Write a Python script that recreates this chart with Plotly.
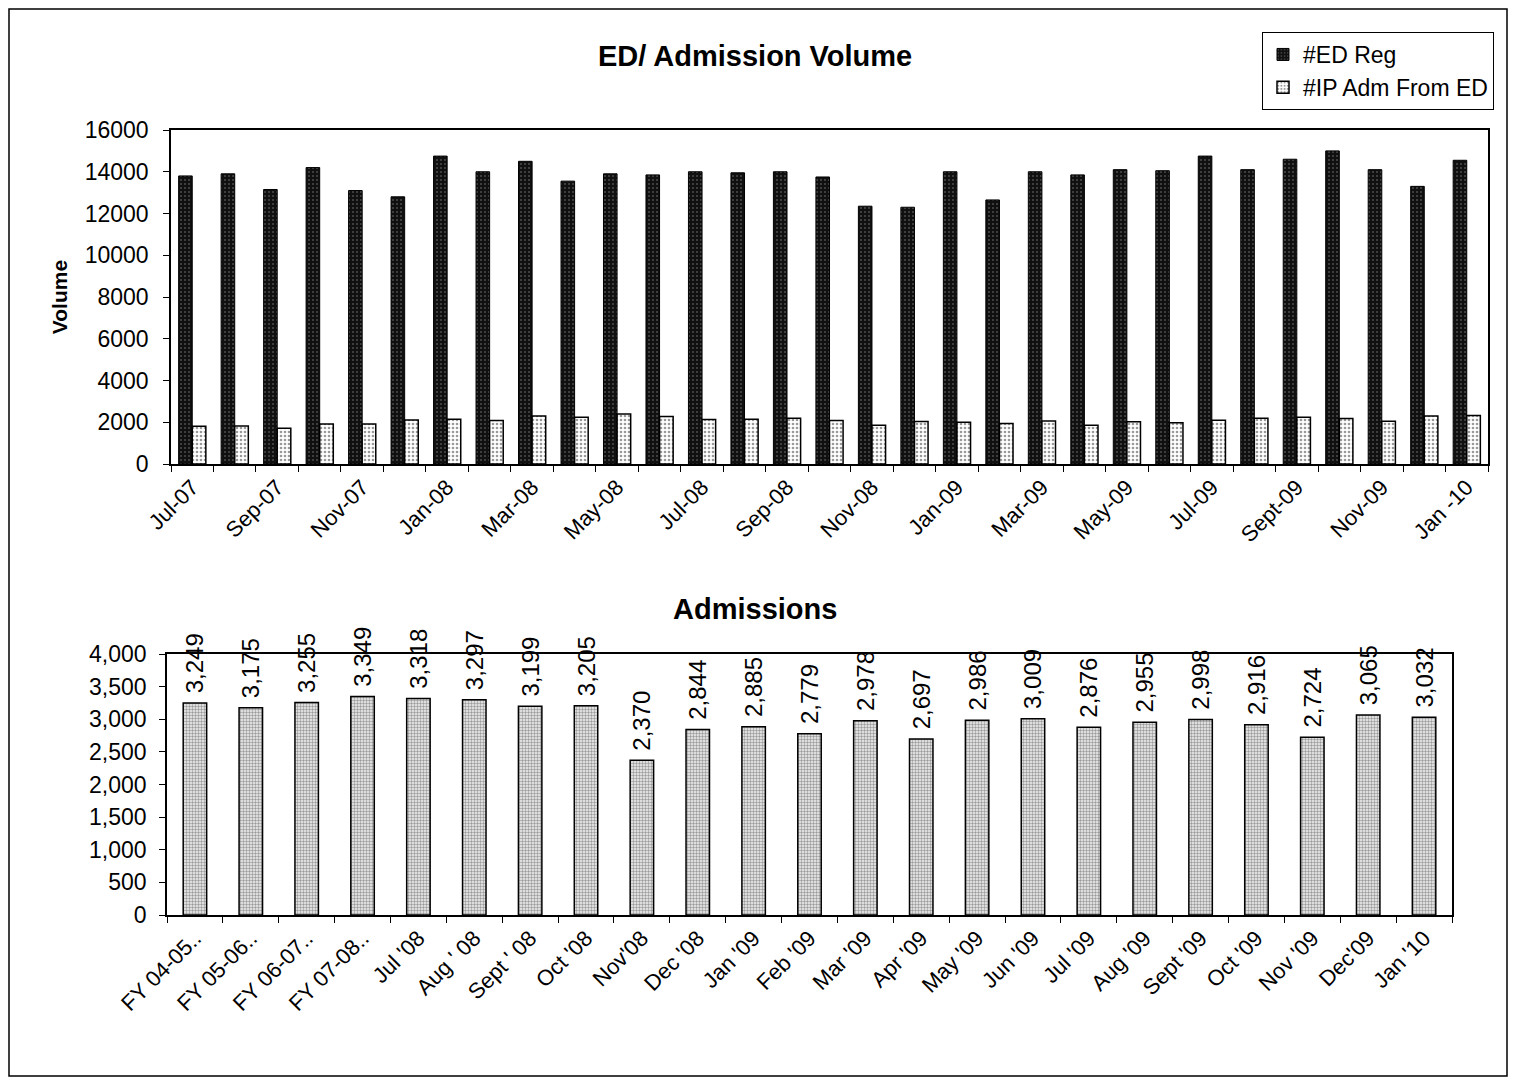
import plotly.graph_objects as go

# ---- Top chart data ----
months = ["Jul-07", "Aug-07", "Sep-07", "Oct-07", "Nov-07", "Dec-07",
          "Jan-08", "Feb-08", "Mar-08", "Apr-08", "May-08", "Jun-08",
          "Jul-08", "Aug-08", "Sep-08", "Oct-08", "Nov-08", "Dec-08",
          "Jan-09", "Feb-09", "Mar-09", "Apr-09", "May-09", "Jun-09",
          "Jul-09", "Aug-09", "Sept-09", "Oct-09", "Nov-09", "Dec-09",
          "Jan -10"]
ed_reg = [13800, 13900, 13150, 14200, 13100, 12800,
          14750, 14000, 14500, 13550, 13900, 13850,
          14000, 13950, 14000, 13750, 12350, 12300,
          14000, 12650, 14000, 13850, 14100, 14050,
          14750, 14100, 14600, 15000, 14100, 13300,
          14550]
ip_adm = [1810, 1820, 1710, 1920, 1920, 2110,
          2140, 2080, 2300, 2240, 2400, 2270,
          2130, 2140, 2190, 2080, 1860, 2030,
          2000, 1940, 2060, 1860, 2020, 1980,
          2100, 2190, 2240, 2180, 2050, 2300,
          2320]
top_ticktext = [m if i % 2 == 0 else "" for i, m in enumerate(months)]
top_yticks = [0, 2000, 4000, 6000, 8000, 10000, 12000, 14000, 16000]
top_yticktext = ["0", "2000", "4000", "6000", "8000", "10000", "12000",
                 "14000", "16000"]

# ---- Bottom chart data ----
adm_cats = ["FY 04-05..", "FY 05-06..", "FY 06-07..", "FY 07-08..",
            "Jul '08", "Aug ' 08", "Sept ' 08", "Oct '08", "Nov'08",
            "Dec '08", "Jan '09", "Feb '09", "Mar '09", "Apr '09",
            "May '09", "Jun '09", "Jul '09", "Aug '09", "Sept '09",
            "Oct '09", "Nov '09", "Dec'09", "Jan '10"]
adm_vals = [3249, 3175, 3255, 3349, 3318, 3297, 3199, 3205, 2370,
            2844, 2885, 2779, 2978, 2697, 2986, 3009, 2876, 2955,
            2998, 2916, 2724, 3065, 3032]
bot_yticks = [0, 500, 1000, 1500, 2000, 2500, 3000, 3500, 4000]

FONT = "Liberation Sans, Arial, sans-serif"

# page has an 8px body margin; figure sized to fit the window
OFF = 8
W, H = 1508, 1071


def fx(px):
    return (px - OFF) / W


def fy(py):
    return 1 - (py - OFF) / H


fig = go.Figure()

fig.add_trace(go.Bar(
    x=months, y=ed_reg, name="#ED Reg",
    marker=dict(color="#151515", line=dict(color="black", width=1),
                pattern=dict(shape=".", fgcolor="#8a8a8a", bgcolor="#101010",
                             size=4, solidity=0.2)),
    xaxis="x", yaxis="y"))
fig.add_trace(go.Bar(
    x=months, y=ip_adm, name="#IP Adm From ED",
    marker=dict(color="white", line=dict(color="black", width=1.5),
                pattern=dict(shape=".", fgcolor="#333333", bgcolor="white",
                             size=4, solidity=0.35)),
    xaxis="x", yaxis="y"))

fig.add_trace(go.Bar(
    x=adm_cats, y=adm_vals, name="Admissions", showlegend=False,
    width=0.42,
    marker=dict(color="white", line=dict(color="black", width=1.5),
                pattern=dict(shape=".", fgcolor="#444444", bgcolor="#f2f2f2",
                             size=3, solidity=0.5)),
    text=["\u00a0" + f"{v:,}" for v in adm_vals], textposition="outside",
    textangle=-90, constraintext="none", cliponaxis=False,
    textfont=dict(family=FONT, size=24, color="black"),
    xaxis="x2", yaxis="y2"))

axis_common = dict(showline=True, linecolor="black", linewidth=1.5,
                   mirror=True, ticks="outside", tickcolor="black",
                   ticklen=6, showgrid=False, zeroline=False,
                   automargin=False)
xfont = dict(family=FONT, size=22, color="black")
yfont = dict(family=FONT, size=23, color="black")

fig.update_layout(
    width=W, height=H,
    margin=dict(l=0, r=0, t=0, b=0),
    paper_bgcolor="white", plot_bgcolor="white",
    barmode="group", bargap=0.36, bargroupgap=0,
    font=dict(family=FONT, color="black"),
    showlegend=True,
    legend=dict(x=fx(1262), y=fy(32), xanchor="left", yanchor="top",
                bordercolor="black", borderwidth=1, bgcolor="white",
                font=dict(family=FONT, size=23, color="black"),
                tracegroupgap=2, itemwidth=30),
    xaxis=dict(domain=[fx(171), fx(1488)], anchor="y", type="category",
               tickmode="array", tickvals=months, ticktext=top_ticktext,
               tickson="boundaries", tickangle=-45, tickfont=xfont,
               **axis_common),
    yaxis=dict(domain=[fy(464), fy(130)], anchor="x", range=[0, 16000],
               tickmode="array", tickvals=top_yticks,
               ticktext=top_yticktext, tickfont=yfont,
               ticklabelstandoff=10,
               title=dict(text="<b>Volume</b>", standoff=11,
                          font=dict(family=FONT, size=21, color="black")),
               **axis_common),
    xaxis2=dict(domain=[fx(167), fx(1452)], anchor="y2", type="category",
                tickmode="array", tickvals=adm_cats,
                tickson="boundaries", tickangle=-45, tickfont=xfont,
                **axis_common),
    yaxis2=dict(domain=[fy(915), fy(654)], anchor="x2", range=[0, 4000],
                tickmode="array", tickvals=bot_yticks, tickformat=",",
                tickfont=yfont, ticklabelstandoff=8,
                **axis_common),
    annotations=[
        dict(text="<b>ED/ Admission Volume</b>", xref="paper", yref="paper",
             x=fx(755), y=fy(56), xanchor="center", yanchor="middle",
             showarrow=False, font=dict(family=FONT, size=29, color="black")),
        dict(text="<b>Admissions</b>", xref="paper", yref="paper",
             x=fx(755), y=fy(609), xanchor="center", yanchor="middle",
             showarrow=False, font=dict(family=FONT, size=29, color="black")),
    ],
    shapes=[
        dict(type="rect", xref="paper", yref="paper",
             x0=fx(9), x1=fx(1507), y0=fy(1076), y1=fy(9),
             line=dict(color="black", width=1.5)),
    ],
)

fig.write_html("out.html")
